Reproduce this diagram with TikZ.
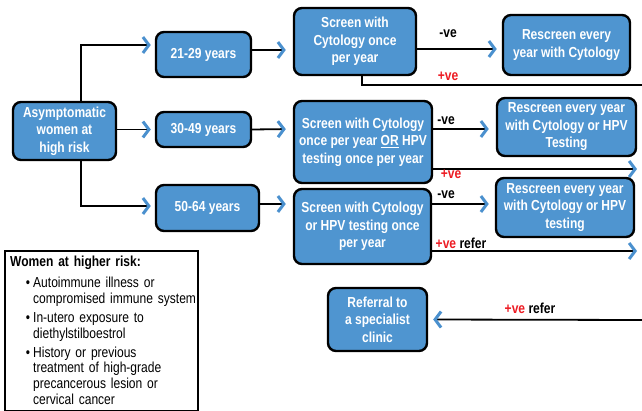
\documentclass[tikz,border=0pt]{standalone}
\usepackage{fontspec}
\setmainfont{Liberation Sans}[FakeStretch=0.83]
\usepackage{enumitem}
\usetikzlibrary{arrows.meta,calc}
\definecolor{boxblue}{RGB}{79,149,208}
\definecolor{tipblue}{RGB}{74,144,206}
\definecolor{posred}{RGB}{237,28,36}

\begin{document}
\begin{tikzpicture}[x=1pt,y=-1pt,
  stepbox/.style={draw=black,line width=2.4pt,fill=boxblue,rounded corners=8pt,text=white,
    font=\bfseries\fontsize{14.5}{17.5}\selectfont,align=center,inner sep=2pt},
  link/.style={line width=1.8pt,-{Straight Barb[length=6pt,width=16pt,line width=3pt,color=tipblue]}},
  tag/.style={font=\bfseries\fontsize{14.5}{17.5}\selectfont,inner sep=0pt}]
\useasboundingbox (0,0) rectangle (642,411);
%boxes
\node[stepbox,minimum width=103pt,minimum height=58pt] (asym) at (64.5,131) {Asymptomatic\\women at\\high risk};
\node[stepbox,minimum width=95pt,minimum height=45pt] (age1) at (203.5,54.5) {21-29 years};
\node[stepbox,minimum width=95pt,minimum height=35pt] (age2) at (203.5,129.5) {30-49 years};
\node[stepbox,minimum width=103pt,minimum height=46pt] (age3) at (207.5,208) {50-64 years};
\node[stepbox,minimum width=122pt,minimum height=67pt] (scr1) at (355,41.5) {Screen with\\Cytology once\\per year};
\node[stepbox,minimum width=138pt,minimum height=82pt] (scr2) at (363,142) {Screen with Cytology\\once per year \underline{OR} HPV\\testing once per year};
\node[stepbox,minimum width=137pt,minimum height=75pt] (scr3) at (362.5,226.5) {Screen with Cytology\\or HPV testing once\\per year};
\node[stepbox,minimum width=127pt,minimum height=60pt] (res1) at (566.5,45) {Rescreen every\\year with Cytology};
\node[stepbox,minimum width=139pt,minimum height=58pt] (res2) at (566.5,127) {Rescreen every year\\with Cytology or HPV\\Testing};
\node[stepbox,minimum width=138pt,minimum height=59pt] (res3) at (565,207.5) {Rescreen every year\\with Cytology or HPV\\testing};
\node[stepbox,minimum width=99pt,minimum height=63pt] (refer) at (377.5,319.5) {Referral to\\a specialist\\clinic};
%free ends
\coordinate (out1) at (642,85);
\coordinate (out2) at (637,169);
\coordinate (out3) at (637,251);
\coordinate (in4) at (642,320);
%age branches
\draw[link,shorten >=4pt] ($(asym.north)+(16.5,0)$) |- ($(age1.west)+(0,-9.5)$);
\draw[link,shorten >=4pt] (asym.east |- age2.west) -- (age2.west);
\draw[link,shorten >=4pt] ($(asym.south)+(16.5,0)$) |- ($(age3.west)+(0,-2)$);
\draw[link,shorten >=7pt] ($(age1.east)+(0,-4.5)$) -- ($(scr1.west)+(0,8.5)$);
\draw[link,shorten >=7pt] (age2.east) -- ($(scr2.west)+(0,-13)$);
\draw[link,shorten >=7pt] ($(age3.east)+(0,-4)$) -- ($(scr3.west)+(0,-22.5)$);
%results
\draw[link,shorten >=5pt] ($(scr1.east)+(0,7.5)$) -- ($(res1.west)+(0,4)$);
\draw[line width=1.8pt] ($(scr1.south)+(7,0)$) |- (out1);
\draw[link,shorten >=7pt] ($(scr2.east)+(0,-13)$) -- ($(res2.west)+(0,2)$);
\draw[link] ($(scr2.east)+(0,27)$) -- (out2);
\draw[link,shorten >=6pt] ($(scr3.east)+(0,-22.5)$) -- ($(res3.west)+(0,-3.5)$);
\draw[link] ($(scr3.east)+(0,24.5)$) -- (out3);
\draw[link,shorten >=5pt] (in4) -- (refer.east);
%labels
\node[tag] (neg1) at (448,34) {-ve};
\node[tag,text=posred] (pos1) at (448,76) {+ve};
\node[tag] (neg2) at (446,121) {-ve};
\node[tag,text=posred] (pos2) at (451,174) {+ve};
\node[tag] (neg3) at (446,195) {-ve};
\node[tag] (pos3) at (461,243) {\textcolor{posred}{+ve} refer};
\node[tag] (pos4) at (530,308) {\textcolor{posred}{+ve} refer};
%legend
\draw[line width=1.6pt] (5,251) rectangle (198,410.5);
\node[anchor=north west,text width=190pt,inner sep=4pt,align=left,
  font=\fontsize{14.5}{15.7}\selectfont] (legend) at (6,252) {%
  {\bfseries Women at higher risk:}
  \begin{itemize}[leftmargin=23pt,labelsep=3pt,itemsep=3.5pt,topsep=5pt,parsep=0pt,partopsep=0pt]
  \item Autoimmune illness or\\compromised immune system
  \item In-utero exposure to\\diethylstilboestrol
  \item History or previous\\treatment of high-grade\\precancerous lesion or\\cervical cancer
  \end{itemize}};
\end{tikzpicture}
\end{document}
